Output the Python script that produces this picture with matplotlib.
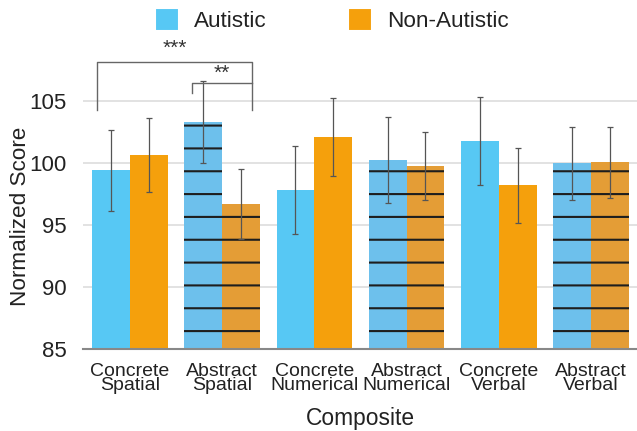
import matplotlib
matplotlib.use("Agg")
import matplotlib.pyplot as plt
import numpy as np
from matplotlib.patches import Patch

DPI = 137
K = 100 / DPI  # keep sizes equivalent to a 100-dpi layout

plt.rcParams['font.family'] = ['Liberation Sans', 'DejaVu Sans']
plt.rcParams['hatch.linewidth'] = 1.1

categories = ["Concrete\nSpatial", "Abstract\nSpatial", "Concrete\nNumerical",
              "Abstract\nNumerical", "Concrete\nVerbal", "Abstract\nVerbal"]
autistic = [99.4, 103.3, 97.8, 100.25, 101.75, 99.97]
autistic_err = [3.25, 3.3, 3.55, 3.45, 3.55, 2.95]
non_autistic = [100.65, 96.7, 102.1, 99.75, 98.2, 100.05]
non_autistic_err = [2.95, 2.85, 3.15, 2.75, 3.05, 2.85]
abstract = [False, True, False, True, False, True]

c_blue = "#57C8F4"
c_orange = "#F5A00C"
c_blue_h = "#6DC0EC"
c_orange_h = "#E49D36"

fig = plt.figure(figsize=(637 / DPI, 431 / DPI), dpi=DPI)
ax = fig.add_axes([83/637, 1-349/431, 1-83/637, (349-39)/431])

x = np.arange(len(categories))
w = 0.41
for i in range(len(categories)):
    if abstract[i]:
        ax.bar(x[i]-w/2, autistic[i], w, color=c_blue_h, edgecolor='#1e1e1e',
               linewidth=0, hatch='-', zorder=2)
        ax.bar(x[i]+w/2, non_autistic[i], w, color=c_orange_h, edgecolor='#1e1e1e',
               linewidth=0, hatch='-', zorder=2)
    else:
        ax.bar(x[i]-w/2, autistic[i], w, color=c_blue, linewidth=0, zorder=2)
        ax.bar(x[i]+w/2, non_autistic[i], w, color=c_orange, linewidth=0, zorder=2)

ax.errorbar(x-w/2, autistic, yerr=autistic_err, fmt='none', ecolor='#555555',
            elinewidth=0.9*K, capsize=2.3*K, capthick=0.9*K, zorder=3)
ax.errorbar(x+w/2, non_autistic, yerr=non_autistic_err, fmt='none', ecolor='#555555',
            elinewidth=0.9*K, capsize=2.3*K, capthick=0.9*K, zorder=3)

ax.set_ylim(85, 110)
ax.set_xlim(-0.51, 5.5)
ax.set_yticks([85, 90, 95, 100, 105])
ax.set_xticks(x)
ax.set_xticklabels(categories, fontsize=14*K, linespacing=0.8)
ax.tick_params(axis='both', length=0, labelcolor='#222222')
ax.tick_params(axis='y', labelsize=16*K, pad=12*K)
ax.tick_params(axis='x', pad=10*K)
ax.grid(axis='y', color='#dddddd', linewidth=1.2*K, zorder=0)
ax.set_axisbelow(True)
for s in ['top', 'right', 'left']:
    ax.spines[s].set_visible(False)
ax.spines['bottom'].set_color('#888888')
ax.spines['bottom'].set_linewidth(1.5*K)
ax.spines['bottom'].set_zorder(4)

ax.set_ylabel("Normalized Score", fontsize=16.2*K, color='#222222')
ax.yaxis.set_label_coords(-(83-31)/554, (349-216)/310)
ax.set_xlabel("Composite", fontsize=16.4*K, color='#222222', labelpad=9.5*K)

# significance brackets
bc = '#666666'
ax.plot([-0.358, -0.358, 1.323, 1.323], [104.27, 108.15, 108.15, 104.27],
        color=bc, lw=1.0*K, clip_on=False, zorder=3)
ax.plot([0.672, 0.672, 1.323], [105.65, 106.45, 106.45],
        color=bc, lw=1.0*K, clip_on=False, zorder=3)
ax.text(0.488, 108.5, "***", ha='center', va='bottom', fontsize=15*K, color='#333333')
ax.text(1.0, 106.5, "**", ha='center', va='bottom', fontsize=15*K, color='#333333')

handles = [Patch(color=c_blue, label="Autistic"), Patch(color=c_orange, label="Non-Autistic")]
fig.legend(handles=handles, ncol=2, loc='center', bbox_to_anchor=(333/637, 1-21/431),
           frameon=False, fontsize=16.2*K, handlelength=0.9, handleheight=0.95,
           handletextpad=0.75, columnspacing=3.7, labelcolor='#222222')

fig.savefig("out.png", dpi=DPI)
